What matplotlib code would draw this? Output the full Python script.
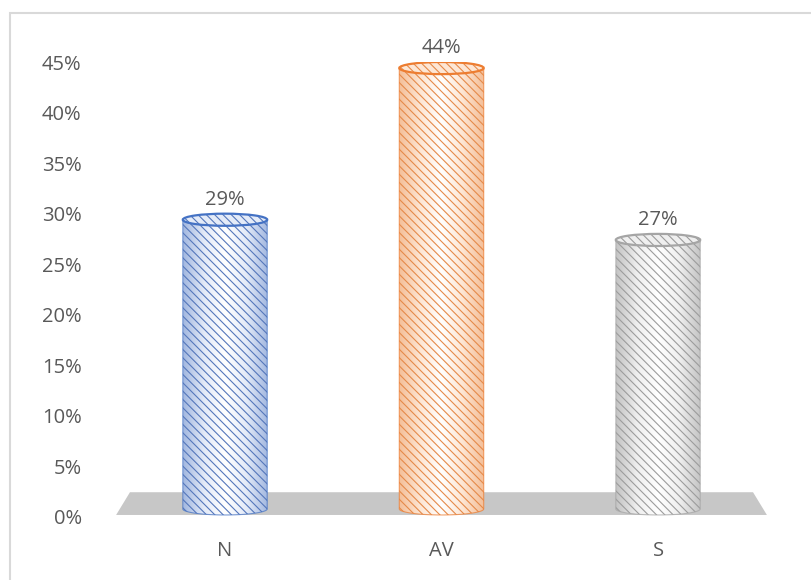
import numpy as np
import matplotlib
matplotlib.use("Agg")
import matplotlib.pyplot as plt
from matplotlib.path import Path
from matplotlib.patches import PathPatch, Ellipse, Polygon, Rectangle
from matplotlib.colors import LinearSegmentedColormap

categories = ["N", "AV", "S"]
values = [29, 44, 27]
value_labels = ["29%", "44%", "27%"]
y_ticks = [0, 5, 10, 15, 20, 25, 30, 35, 40, 45]
y_tick_labels = ["0%", "5%", "10%", "15%", "20%", "25%", "30%", "35%", "40%", "45%"]

# main colour, light body colour, hatch colour for each cylinder
main_colors = ["#4472C4", "#ED7D31", "#A5A5A5"]
light_colors = ["#e4ebf8", "#fde6d4", "#efefef"]
dark_colors = ["#a3b8e0", "#f4bf99", "#c4c4c4"]
hatch_colors = ["#5577bb", "#e58a4a", "#9c9c9c"]

text_color = "#595959"
plt.rcParams["font.family"] = ["Open Sans", "DejaVu Sans"]
plt.rcParams["hatch.linewidth"] = 0.8

W, H = 811, 580
fig = plt.figure(figsize=(W / 100, H / 100), dpi=100)

# light frame around the chart area (runs off the right and bottom edges)
fig.patches.append(Rectangle((10 / W, -0.1), 1.2, (H - 13) / H + 0.1,
                             transform=fig.transFigure, fill=False,
                             edgecolor="#d9d9d9", linewidth=1.5))

ax_left, ax_right = 90, 790
ax_bottom, ax_top = 517, 62
ax = fig.add_axes([ax_left / W, (H - ax_bottom) / H,
                   (ax_right - ax_left) / W, (ax_bottom - ax_top) / H])

x = np.arange(len(categories))
px_per_unit = 216.5
ax.set_xlim(-(225 - ax_left) / px_per_unit, 2 + (ax_right - 658) / px_per_unit)
ax.set_ylim(0, 45)
ax.patch.set_alpha(0)
for s in ax.spines.values():
    s.set_visible(False)

ax.set_yticks(y_ticks)
ax.set_yticklabels(y_tick_labels)
ax.set_xticks(x)
ax.set_xticklabels(categories)
ax.tick_params(axis="both", length=0, labelsize=14.5, colors=text_color)
ax.tick_params(axis="y", pad=6)
ax.tick_params(axis="x", pad=17)
for lab in ax.get_yticklabels() + ax.get_xticklabels():
    lab.set_color(text_color)

# grey floor
floor = Polygon([(-0.503, 0.2), (2.503, 0.2), (2.439, 2.45), (-0.439, 2.45)],
                closed=True, facecolor="#c7c7c7", edgecolor="none", zorder=1)
ax.add_patch(floor)

half_w = 0.195
ell_h = 1.2
base = 0.8
t = np.linspace(np.pi, 2 * np.pi, 60)
hatch = "\\\\\\\\"

for i, v in enumerate(values):
    cx = x[i]
    top = v + 0.4
    # side of the cylinder: two straight edges joined by the lower half ellipse
    arc = np.column_stack([cx + half_w * np.cos(t), base + ell_h / 2 * np.sin(t)])
    verts = np.vstack([[cx - half_w, top], arc, [cx + half_w, top], [cx - half_w, top]])
    codes = [Path.MOVETO] + [Path.LINETO] * (len(verts) - 2) + [Path.CLOSEPOLY]
    side = Path(verts, codes)

    cmap = LinearSegmentedColormap.from_list(
        "c%d" % i, [dark_colors[i], light_colors[i], "#ffffff", light_colors[i], dark_colors[i]])
    grad = np.linspace(0, 1, 200).reshape(1, -1)
    im = ax.imshow(grad, cmap=cmap, aspect="auto", interpolation="bilinear",
                   extent=[cx - half_w, cx + half_w, base - ell_h, top], zorder=2)
    clip = PathPatch(side, transform=ax.transData, facecolor="none", edgecolor="none")
    ax.add_patch(clip)
    im.set_clip_path(clip)

    ax.add_patch(PathPatch(side, facecolor="none", edgecolor=hatch_colors[i],
                           hatch=hatch, linewidth=0, zorder=3))
    ax.add_patch(PathPatch(side, facecolor="none", edgecolor=main_colors[i],
                           linewidth=0.8, alpha=0.7, zorder=4))

    # top cap
    ax.add_patch(Ellipse((cx, top), 2 * half_w, ell_h, facecolor=light_colors[i],
                         edgecolor="none", zorder=5))
    ax.add_patch(Ellipse((cx, top), 2 * half_w, ell_h, facecolor="none",
                         edgecolor=hatch_colors[i], hatch=hatch, linewidth=0, zorder=6))
    ax.add_patch(Ellipse((cx, top), 2 * half_w, ell_h, facecolor="none",
                         edgecolor=main_colors[i], linewidth=1.6, zorder=7))

    ax.annotate(value_labels[i], (cx, top + ell_h / 2), xytext=(0, 3),
                textcoords="offset points", ha="center", va="bottom",
                fontsize=14.5, color=text_color)

fig.savefig("out.png", dpi=100)
